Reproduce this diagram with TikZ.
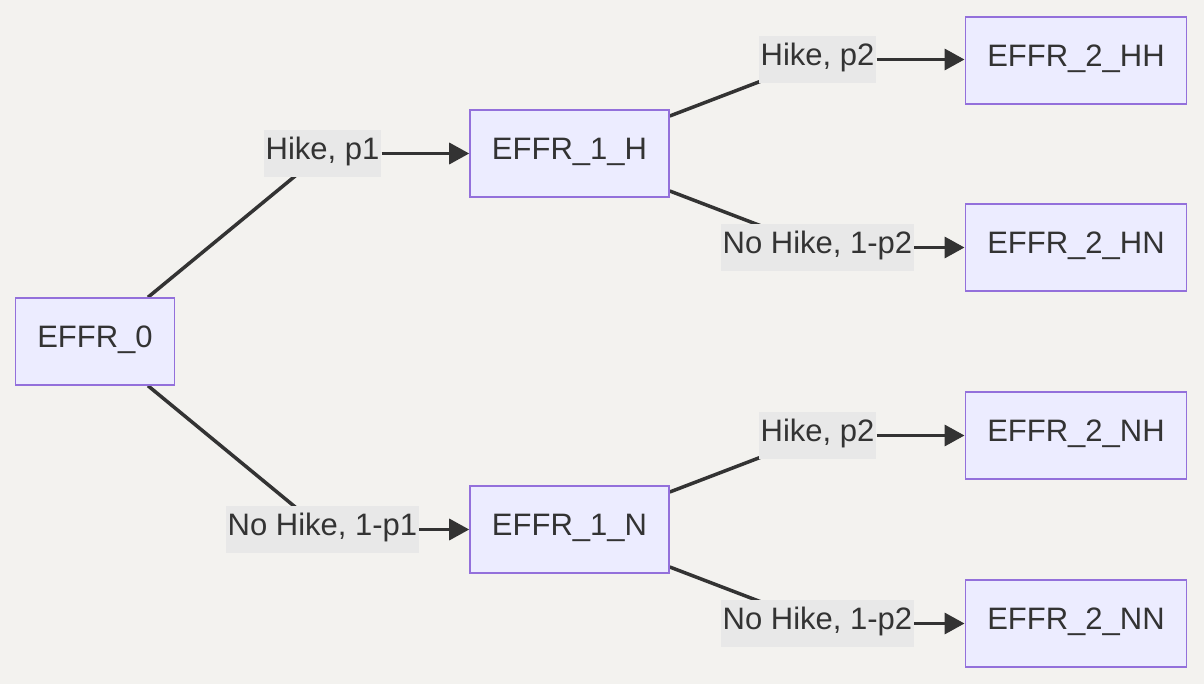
\documentclass[tikz,border=0pt]{standalone}
\usepackage{fontspec}
\setmainfont{Liberation Sans}
\usetikzlibrary{arrows.meta}
\definecolor{bgc}{HTML}{F3F2EF}
\definecolor{nodefill}{HTML}{ECECFF}
\definecolor{nodeline}{HTML}{9370DB}
\definecolor{lblfill}{HTML}{E8E8E8}
\definecolor{ink}{HTML}{333333}
\pgfdeclarelayer{back}
\pgfdeclarelayer{edges}
\pgfsetlayers{back,edges,main}
\tikzset{
  statebox/.style={draw=nodeline, fill=nodefill, line width=1.5pt, inner xsep=22pt, inner ysep=0pt,
    minimum height=87pt, text=ink, font=\fontsize{31}{37}\selectfont,
    text height=29.5pt, text depth=17.5pt},
  lbl/.style={fill=lblfill, inner xsep=2pt, inner ysep=0pt, text=ink,
    font=\fontsize{31}{37}\selectfont, text height=29.5pt, text depth=17.5pt},
  link/.style={draw=ink, line width=3.5pt},
  arr/.style={link, -{Triangle[length=20pt,width=21pt]}}
}
\begin{document}
\begin{tikzpicture}[x=1pt,y=-1pt]
\begin{pgfonlayer}{back}
\fill[bgc] (0,0) rectangle (1204,684);
\end{pgfonlayer}
\useasboundingbox (0,0) rectangle (1204,684);
\node[statebox] (e0) at (95,341.5) {EFFR\_0};
\node[statebox] (h1) at (569.5,153.5) {EFFR\_1\_H};
\node[statebox] (n1) at (569.5,529.5) {EFFR\_1\_N};
\node[statebox] (hh) at (1076,60.5) {EFFR\_2\_HH};
\node[statebox] (hn) at (1076,247.5) {EFFR\_2\_HN};
\node[statebox] (nh) at (1076,435.5) {EFFR\_2\_NH};
\node[statebox] (nn) at (1076,623.5) {EFFR\_2\_NN};
\node[lbl] (l1) at (322.5,153.5) {Hike, p1};
\node[lbl] (l2) at (322.5,529.5) {No Hike, 1-p1};
\node[lbl] (l3) at (817.5,59.5) {Hike, p2};
\node[lbl] (l4) at (817.5,247.5) {No Hike, 1-p2};
\node[lbl] (l5) at (817.5,435.5) {Hike, p2};
\node[lbl] (l6) at (817.5,623.5) {No Hike, 1-p2};
\begin{pgfonlayer}{edges}
\draw[link] ([xshift=53pt]e0.north) -- (l1.center);
\draw[link] ([xshift=53pt]e0.south) -- (l2.center);
\draw[link] ([yshift=37.5pt]h1.east) -- (l3.center);
\draw[link] ([yshift=-37.5pt]h1.east) -- (l4.center);
\draw[link] ([yshift=37.5pt]n1.east) -- (l5.center);
\draw[link] ([yshift=-37.5pt]n1.east) -- (l6.center);
\end{pgfonlayer}
\draw[arr] (l1.east) -- (l1.east -| h1.west);
\draw[arr] (l2.east) -- (l2.east -| n1.west);
\draw[arr] (l3.east) -- (l3.east -| hh.west);
\draw[arr] (l4.east) -- (l4.east -| hn.west);
\draw[arr] (l5.east) -- (l5.east -| nh.west);
\draw[arr] (l6.east) -- (l6.east -| nn.west);
\end{tikzpicture}
\end{document}
